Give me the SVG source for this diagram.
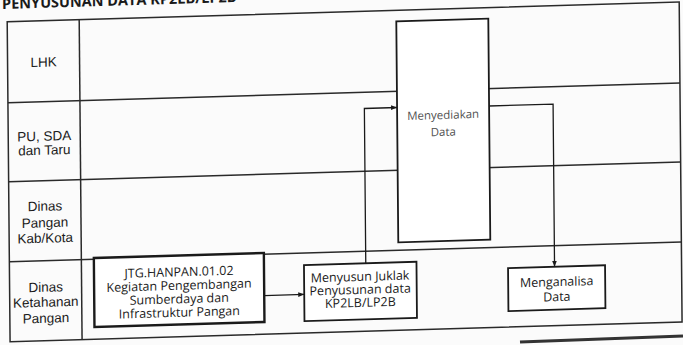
<svg xmlns="http://www.w3.org/2000/svg" width="683" height="345" viewBox="0 0 683 345">
<style>
.grid{fill:none;stroke:#2a2a2a;stroke-width:1.5}
.box{fill:#fff;stroke:#1a1a1a;stroke-width:1.8}
.thick{stroke-width:2.4}
.lane{font-family:"Liberation Sans",Arial,sans-serif;font-size:13.5px;fill:#1a1a1a;text-anchor:middle}
.bt{font-family:"Open Sans","Noto Sans",sans-serif;font-size:12.5px;fill:#1a1a1a;text-anchor:middle}
.light{font-size:11.5px;fill:#505050}
.con{fill:none;stroke:#1a1a1a;stroke-width:1.3}
.title{font-family:"Open Sans","Noto Sans",sans-serif;font-size:14.5px;font-weight:bold;fill:#1a1a1a}
</style>
<defs>
<marker id="ah" viewBox="0 0 10 10" refX="10" refY="5" markerWidth="6" markerHeight="6" orient="auto" markerUnits="userSpaceOnUse">
<path d="M0,1 L10,5 L0,9 Z" fill="#1a1a1a"/>
</marker>
</defs>
<rect x="0" y="0" width="683" height="345" fill="#fbfbfb"/>
<g transform="matrix(1,-0.0295,0.009,1,0,0)">
<text class="title" x="2" y="9">PENYUSUNAN DATA KP2LB/LP2B</text>
<g id="table">
<rect class="grid" x="7" y="22" width="672" height="320" fill="#fff"/>
<line class="grid" x1="79" y1="22" x2="79" y2="342"/>
<line class="grid" x1="7" y1="103" x2="679" y2="103"/>
<line class="grid" x1="7" y1="182" x2="679" y2="182"/>
<line class="grid" x1="7" y1="262" x2="679" y2="262"/>
</g>
<g id="lane-lhk"><text class="lane" x="43" y="68">LHK</text></g>
<g id="lane-pu"><text class="lane" x="43" y="142">PU, SDA</text><text class="lane" x="43" y="156">dan Taru</text></g>
<g id="lane-dinas-pangan"><text class="lane" x="43" y="212">Dinas</text><text class="lane" x="43" y="228.5">Pangan</text><text class="lane" x="43" y="244">Kab/Kota</text></g>
<g id="lane-ketahanan"><text class="lane" x="43" y="293">Dinas</text><text class="lane" x="43" y="308">Ketahanan</text><text class="lane" x="43" y="324">Pangan</text></g>
<g id="connectors">
<line class="con" x1="261.5" y1="303.3" x2="301.5" y2="303.3" marker-end="url(#ah)"/>
<polyline class="con" points="363.3,274 363.3,119.2 396,119.2" marker-end="url(#ah)"/>
<polyline class="con" points="488,120.4 552,120.4 552,283" marker-end="url(#ah)"/>
</g>
<g id="node-jtg">
<rect class="box thick" x="91.5" y="260.7" width="170" height="69"/>
<text class="bt" x="176.5" y="281.5">JTG.HANPAN.01.02</text>
<text class="bt" x="176.5" y="295">Kegiatan Pengembangan</text>
<text class="bt" x="176.5" y="308.5">Sumberdaya dan</text>
<text class="bt" x="176.5" y="322">Infrastruktur Pangan</text>
</g>
<g id="node-juklak">
<rect class="box" x="301.5" y="274" width="112.5" height="56"/>
<text class="bt" x="357.5" y="291.5">Menyusun Juklak</text>
<text class="bt" x="357.5" y="304.5">Penyusunan data</text>
<text class="bt" x="357.5" y="317.5">KP2LB/LP2B</text>
</g>
<g id="node-menyediakan">
<rect class="box" x="396" y="33" width="92" height="221"/>
<text class="bt light" x="442" y="132">Menyediakan</text>
<text class="bt light" x="442" y="149">Data</text>
</g>
<g id="node-menganalisa">
<rect class="box" x="505.5" y="283" width="97" height="43"/>
<text class="bt" x="554" y="302.5">Menganalisa</text>
<text class="bt" x="554" y="317.5">Data</text>
</g>
</g>
<line x1="520" y1="342" x2="683" y2="336" stroke="#333" stroke-width="3"/>
</svg>
